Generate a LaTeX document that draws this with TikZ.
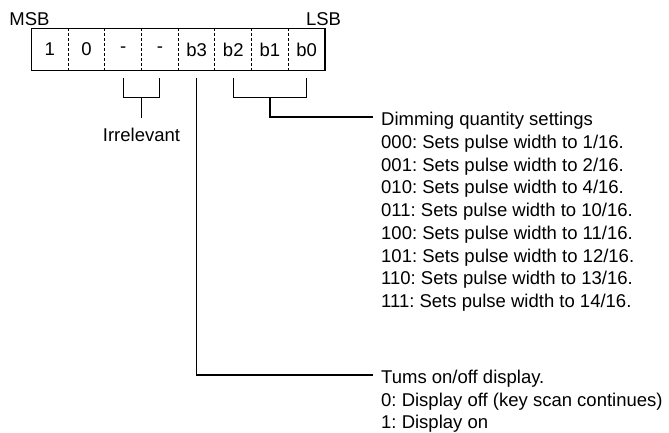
\documentclass[tikz,border=0pt]{standalone}
\usepackage{fontspec}
\setmainfont{Liberation Sans}
\usetikzlibrary{positioning,calc}
\frenchspacing

\begin{document}
\begin{tikzpicture}[x=1pt, y=-1pt, line width=1.2pt,
                    cell/.style={minimum width=35.5pt, minimum height=41pt, inner sep=0pt,
                                 font=\fontsize{18.5}{22}\selectfont},
                    tag/.style={inner sep=0pt, font=\fontsize{18.5}{22}\selectfont},
                    note/.style={inner sep=0pt, align=left, anchor=north west,
                                 font=\fontsize{18.5}{22.7}\selectfont}]

  \useasboundingbox (0,0) rectangle (669,432);

  % register bits
  \node[cell] (1) at (49.75,49.5) {1};
  \node[cell] (2) [right=0pt of 1] {0};
  \node[cell] (3) [right=0pt of 2] {-};
  \node[cell] (4) [right=0pt of 3] {-};
  \node[cell] (5) [right=0pt of 4] {b3};
  \node[cell] (6) [right=0pt of 5] {b2};
  \node[cell] (7) [right=0pt of 6] {b1};
  \node[cell] (8) [right=0pt of 7] {b0};

  \draw (1.north west) rectangle (8.south east);
  \path[draw, line width=1pt, dash pattern=on 3pt off 2pt]
    (1.north east) -- (1.south east)
    (2.north east) -- (2.south east)
    (3.north east) -- (3.south east)
    (4.north east) -- (4.south east)
    (5.north east) -- (5.south east)
    (6.north east) -- (6.south east)
    (7.north east) -- (7.south east);

  \node[tag, anchor=base] (msb) at ([xshift=-2pt, yshift=3pt]1.north west) {MSB};
  \node[tag, anchor=base] (lsb) at ([xshift=-1.5pt, yshift=3pt]8.north east) {LSB};

  % irrelevant bits
  \draw ([yshift=-7pt]3.south) |- ([yshift=-27pt]4.south) -- ([yshift=-7pt]4.south);
  \draw ($(3.south)!.5!(4.south)+(0,27)$) -- ++(0,20) coordinate (irrstem);
  \node[tag, below=10.3pt of irrstem] (irr) {Irrelevant};

  % dimming bits
  \coordinate (dimend) at (373,117);
  \draw ([yshift=-7pt]6.south) |- ([yshift=-27pt]8.south) -- ([yshift=-7pt]8.south);
  \draw ($(6.south)!.5!(8.south)+(0,27)$) |- (dimend);
  \node[note] (dim) at (380.6,111.8) {Dimming quantity settings\\
    000: Sets pulse width to 1/16.\\
    001: Sets pulse width to 2/16.\\
    010: Sets pulse width to 4/16.\\
    011: Sets pulse width to 10/16.\\
    100: Sets pulse width to 11/16.\\
    101: Sets pulse width to 12/16.\\
    110: Sets pulse width to 13/16.\\
    111: Sets pulse width to 14/16.};

  % display bit
  \coordinate (tumsend) at (373,375);
  \draw ([yshift=-7pt]5.south) |- (tumsend);
  \node[note, font=\fontsize{18.5}{22.2}\selectfont] (tums) at (380.6,369.8) {Tums on/off display.\\
    0: Display off (key scan continues)\\
    1: Display on};
\end{tikzpicture}
\end{document}
